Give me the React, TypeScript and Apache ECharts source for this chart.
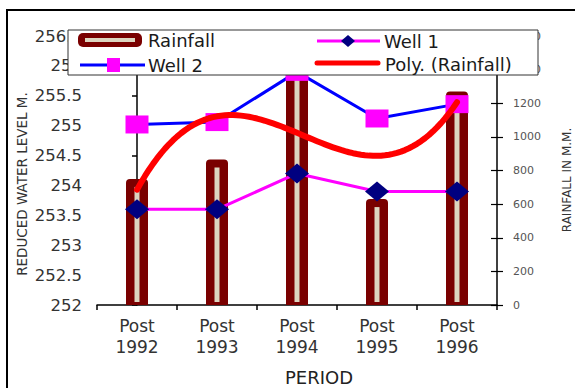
import React, { useEffect, useRef } from "react";
import * as echarts from "echarts";

// Observation periods
const periods = ["Post\n1992", "Post\n1993", "Post\n1994", "Post\n1995", "Post\n1996"];
// Annual rainfall (mm) — right axis
const rainfall = [750, 865, 1410, 630, 1270];
// Reduced water levels (m) — left axis
const well1 = [253.6, 253.6, 254.2, 253.9, 253.9];
const well2 = [255.02, 255.06, 255.9, 255.12, 255.36];

const FONT = "DejaVu Sans";

// Least-squares polynomial fit (normal equations + Gaussian elimination)
function polyfit(xs: number[], ys: number[], deg: number): number[] {
  const n = deg + 1;
  const A: number[][] = [];
  const b: number[] = [];
  for (let r = 0; r < n; r++) {
    A.push([]);
    for (let c = 0; c < n; c++) {
      let s = 0;
      for (const x of xs) s += Math.pow(x, r + c);
      A[r].push(s);
    }
    let s = 0;
    xs.forEach((x, i) => (s += ys[i] * Math.pow(x, r)));
    b.push(s);
  }
  for (let i = 0; i < n; i++) {
    let p = i;
    for (let k = i + 1; k < n; k++) if (Math.abs(A[k][i]) > Math.abs(A[p][i])) p = k;
    [A[i], A[p]] = [A[p], A[i]];
    [b[i], b[p]] = [b[p], b[i]];
    for (let k = i + 1; k < n; k++) {
      const f = A[k][i] / A[i][i];
      for (let c = i; c < n; c++) A[k][c] -= f * A[i][c];
      b[k] -= f * b[i];
    }
  }
  const coef = new Array(n).fill(0);
  for (let i = n - 1; i >= 0; i--) {
    let s = b[i];
    for (let c = i + 1; c < n; c++) s -= A[i][c] * coef[c];
    coef[i] = s / A[i][i];
  }
  return coef;
}

// Polynomial (order 3) trendline of rainfall, sampled along the period index
function rainfallTrend(): number[][] {
  const xs = rainfall.map((_, i) => i);
  const coef = polyfit(xs, rainfall, 3);
  const pts: number[][] = [];
  const steps = 80;
  for (let k = 0; k <= steps; k++) {
    const t = ((rainfall.length - 1) * k) / steps;
    let y = 0;
    coef.forEach((c, p) => (y += c * Math.pow(t, p)));
    pts.push([t, y]);
  }
  return pts;
}

// Legend box drawn on top of everything (every leaf carries its own z)
function legendGraphic() {
  const Z = 200;
  const txt = (x: number, y: number, text: string) => ({
    type: "text",
    z: Z + 2,
    x,
    y,
    style: { text, fill: "#1a1a1a", font: `18px "${FONT}"`, verticalAlign: "middle", align: "left" },
  });
  return [
    { type: "rect", z: Z, shape: { x: 68, y: 30, width: 470, height: 45 }, style: { fill: "#fff", stroke: "#333", lineWidth: 1 } },
    // Rainfall
    { type: "rect", z: Z + 1, shape: { x: 78, y: 33, width: 64, height: 14, r: 5 }, style: { fill: "#7a0000" } },
    { type: "rect", z: Z + 2, shape: { x: 85, y: 38, width: 50, height: 4 }, style: { fill: "#ddd5c0" } },
    txt(148, 40, "Rainfall"),
    // Well 1
    { type: "line", z: Z + 1, shape: { x1: 317, y1: 41, x2: 380, y2: 41 }, style: { stroke: "#ff00ff", lineWidth: 3 } },
    { type: "polygon", z: Z + 2, shape: { points: [[348, 35], [355, 41], [348, 47], [341, 41]] }, style: { fill: "#000080" } },
    txt(384, 41, "Well 1"),
    // Well 2
    { type: "line", z: Z + 1, shape: { x1: 80, y1: 65, x2: 145, y2: 65 }, style: { stroke: "#0000ff", lineWidth: 3 } },
    { type: "rect", z: Z + 2, shape: { x: 107, y: 58, width: 13, height: 14 }, style: { fill: "#ff00ff" } },
    txt(148, 65, "Well 2"),
    // Trendline
    { type: "line", z: Z + 1, shape: { x1: 317, y1: 63, x2: 378, y2: 63 }, style: { stroke: "#ff0000", lineWidth: 5, lineCap: "round" } },
    txt(385, 64, "Poly. (Rainfall)"),
  ];
}

export default function App() {
  const ref = useRef<HTMLDivElement>(null);

  useEffect(() => {
    if (!ref.current) return;
    const chart = echarts.init(ref.current, null, { renderer: "svg" });

    const option: any = {
      animation: false,
      backgroundColor: "#fff",
      grid: { left: 97, right: 78, top: 36, bottom: 83 },
      xAxis: [
        {
          type: "category",
          data: periods,
          boundaryGap: true,
          axisLine: { lineStyle: { color: "#000", width: 1.5 } },
          axisTick: { show: true, interval: 0, length: 5, alignWithLabel: false, lineStyle: { color: "#000", width: 1.5 } },
          axisLabel: { interval: 0, margin: 10, color: "#333", fontFamily: FONT, fontSize: 17, lineHeight: 21 },
        },
        {
          type: "value",
          min: -0.5,
          max: 4.5,
          show: false,
        },
      ],
      yAxis: [
        {
          type: "value",
          min: 252,
          max: 256.5,
          interval: 0.5,
          position: "left",
          splitLine: { show: false },
          axisLine: { show: true, lineStyle: { color: "#000", width: 1.5 } },
          axisTick: { show: true, length: 5, lineStyle: { color: "#000", width: 1.5 } },
          axisLabel: { margin: 15, color: "#333", fontFamily: FONT, fontSize: 16.5 },
        },
        {
          type: "value",
          min: 0,
          max: 1600,
          interval: 200,
          position: "right",
          splitLine: { show: false },
          axisLine: { show: true, lineStyle: { color: "#000", width: 1.5 } },
          axisTick: { show: true, length: 6, lineStyle: { color: "#000", width: 1.2 } },
          axisLabel: {
            margin: 16,
            color: "#555",
            fontFamily: FONT,
            fontSize: 11,
            formatter: (v: number) => String(v),
          },
        },
        {
          // inward half of the crossing ticks on the rainfall axis
          type: "value",
          min: 0,
          max: 1600,
          interval: 200,
          position: "right",
          splitLine: { show: false },
          axisLine: { show: false },
          axisTick: { show: true, inside: true, length: 6, lineStyle: { color: "#000", width: 1.2 } },
          axisLabel: { show: false },
        },
      ],
      series: [
        {
          name: "Rainfall",
          type: "custom",
          xAxisIndex: 0,
          yAxisIndex: 1,
          z: 1,
          encode: { x: 0, y: 1 },
          data: rainfall.map((v, i) => [i, v]),
          renderItem: (_params: any, api: any) => {
            const idx = api.value(0);
            const top = api.coord([idx, api.value(1)]);
            const base = api.coord([idx, 0]);
            const w = api.size([1, 0])[0] * 0.275;
            const h = base[1] - top[1];
            return {
              type: "group",
              children: [
                {
                  type: "rect",
                  shape: { x: top[0] - w / 2, y: top[1], width: w, height: h, r: [4, 4, 0, 0] },
                  style: { fill: "#7a0000" },
                },
                {
                  type: "rect",
                  shape: { x: top[0] - 2.5, y: top[1] + 8, width: 5, height: Math.max(0, h - 11) },
                  style: { fill: "#ddd5c0" },
                },
              ],
            };
          },
        },
        {
          name: "Well 2",
          type: "line",
          xAxisIndex: 0,
          yAxisIndex: 0,
          z: 3,
          data: well2,
          symbol: "rect",
          symbolSize: [23, 18],
          lineStyle: { color: "#0000ff", width: 3 },
          itemStyle: { color: "#ff00ff" },
        },
        {
          name: "Well 1",
          type: "line",
          xAxisIndex: 0,
          yAxisIndex: 0,
          z: 3,
          data: well1,
          symbol: "diamond",
          symbolSize: [24, 20],
          lineStyle: { color: "#ff00ff", width: 3 },
          itemStyle: { color: "#000080" },
        },
        {
          name: "Poly. (Rainfall)",
          type: "line",
          xAxisIndex: 1,
          yAxisIndex: 1,
          z: 5,
          data: rainfallTrend(),
          showSymbol: false,
          symbol: "none",
          lineStyle: { color: "#ff0000", width: 6, cap: "round", join: "round" },
        },
      ],
      graphic: [
        {
          type: "rect",
          z: 190,
          shape: { x: 7, y: 10, width: 620, height: 420 },
          style: { fill: "none", stroke: "#000", lineWidth: 2 },
        },
        {
          type: "text",
          x: 22,
          y: 184,
          rotation: Math.PI / 2,
          z: 190,
          style: {
            text: "REDUCED WATER LEVEL M.",
            fill: "#333",
            font: `13.5px "${FONT}"`,
            align: "center",
            verticalAlign: "middle",
          },
        },
        {
          type: "text",
          x: 567,
          y: 180,
          rotation: Math.PI / 2,
          z: 190,
          style: {
            text: "RAINFALL IN M.M.",
            fill: "#333",
            font: `12px "${FONT}"`,
            align: "center",
            verticalAlign: "middle",
          },
        },
        {
          type: "text",
          x: 319,
          y: 377,
          z: 190,
          style: {
            text: "PERIOD",
            fill: "#222",
            font: `18px "${FONT}"`,
            align: "center",
            verticalAlign: "middle",
          },
        },
        ...legendGraphic(),
      ],
    };

    chart.setOption(option);
    return () => chart.dispose();
  }, []);

  return (
    <div
      ref={ref}
      style={{ position: "absolute", left: 0, top: 0, width: 575, height: 388 }}
    />
  );
}
